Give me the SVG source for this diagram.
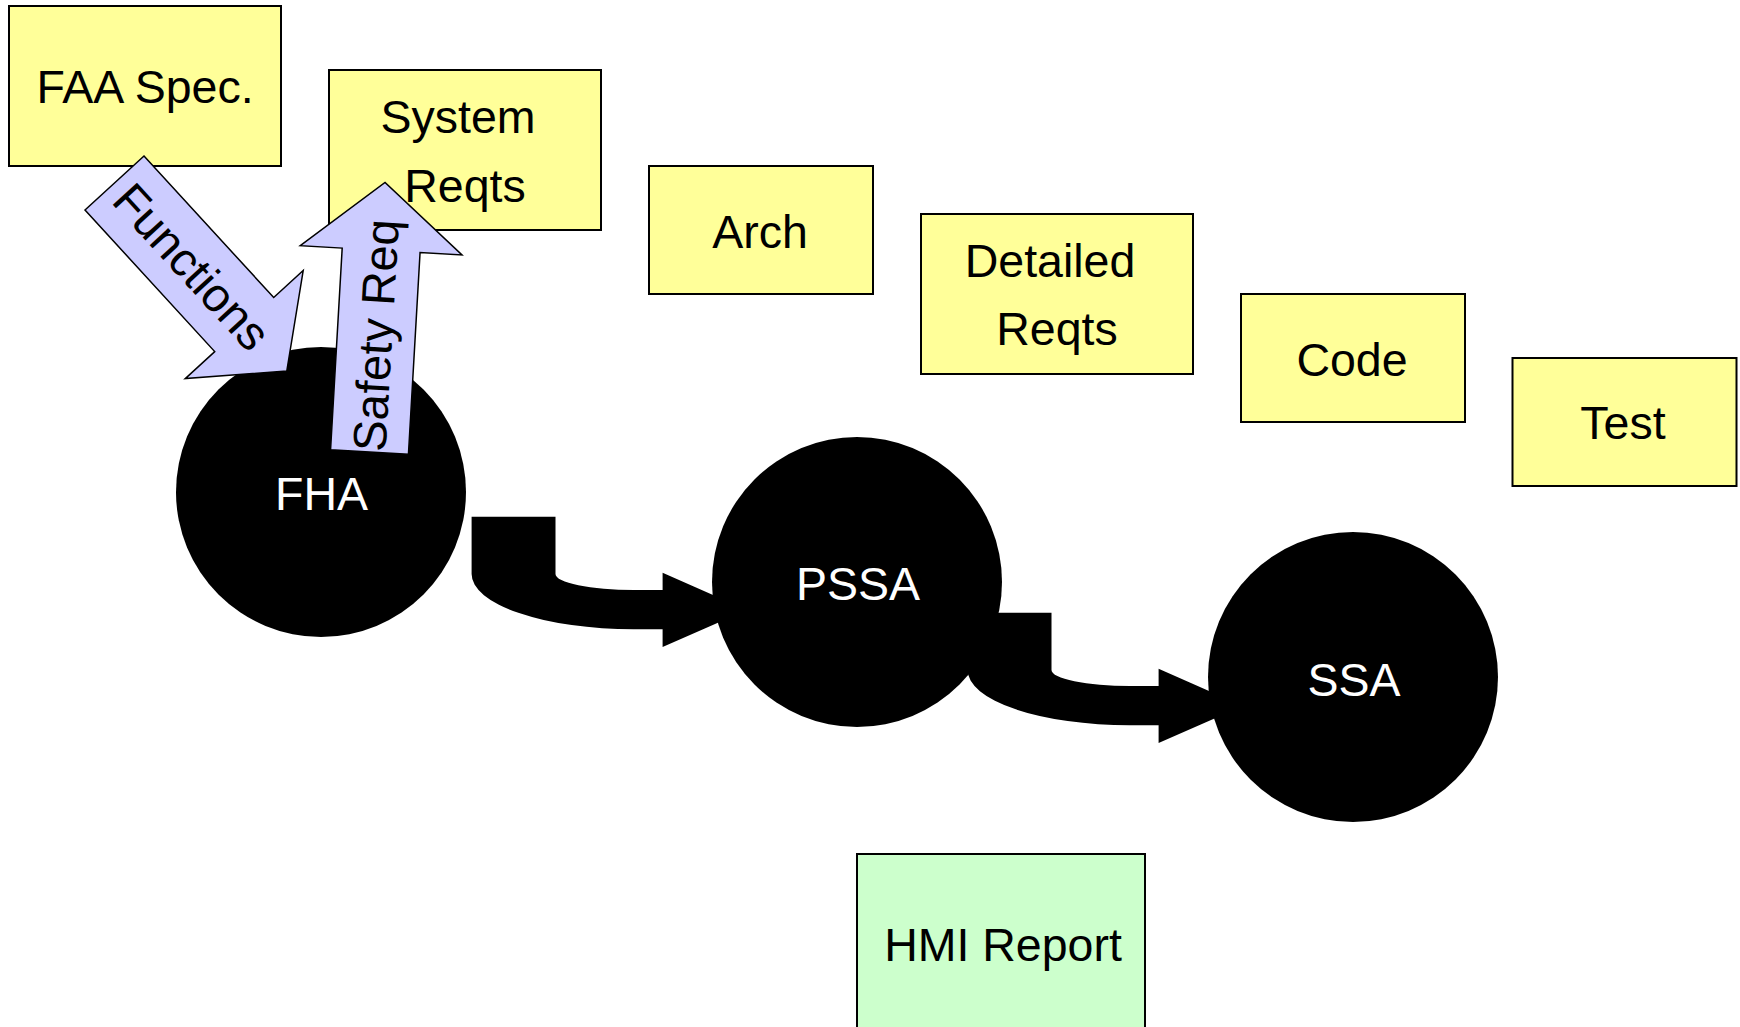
<svg xmlns="http://www.w3.org/2000/svg" width="1740" height="1027" viewBox="0 0 1740 1027">
  <style>
    .box { fill: #FFFF99; stroke: #000; stroke-width: 2; }
    .hmi { fill: #CCFFCC; stroke: #000; stroke-width: 2; }
    .phase { fill: #000; }
    .lbl { font-family: "Liberation Sans", Arial, sans-serif; font-size: 46.5px; fill: #000; text-anchor: middle; }
    .wlbl { font-family: "Liberation Sans", Arial, sans-serif; font-size: 46.5px; fill: #fff; text-anchor: middle; }
    .flow { fill: #000; }
    .block { fill: #CCCCFF; stroke: #000; stroke-width: 1.5; stroke-linejoin: miter; }
  </style>
  <rect width="1740" height="1027" fill="#fff"/>

  <!-- artefact boxes -->
  <g id="faa-spec">
    <rect class="box" x="9" y="6" width="272" height="160"/>
    <text class="lbl" x="145" y="103">FAA Spec.</text>
  </g>
  <g id="system-reqts">
    <rect class="box" x="329" y="70" width="272" height="160"/>
    <text class="lbl" x="458" y="133">System</text>
    <text class="lbl" x="465" y="202">Reqts</text>
  </g>
  <g id="arch">
    <rect class="box" x="649" y="166" width="224" height="128"/>
    <text class="lbl" x="760" y="248">Arch</text>
  </g>
  <g id="detailed-reqts">
    <rect class="box" x="921" y="214" width="272" height="160"/>
    <text class="lbl" x="1050" y="277">Detailed</text>
    <text class="lbl" x="1057" y="345">Reqts</text>
  </g>
  <g id="code">
    <rect class="box" x="1241" y="294" width="224" height="128"/>
    <text class="lbl" x="1352" y="376">Code</text>
  </g>
  <g id="test">
    <rect class="box" x="1512.5" y="358" width="224" height="128"/>
    <text class="lbl" x="1623" y="439">Test</text>
  </g>
  <g id="hmi-report">
    <rect class="hmi" x="857" y="854" width="288" height="200"/>
    <text class="lbl" x="1003" y="961">HMI Report</text>
  </g>

  <!-- safety assessment phases -->
  <g id="fha">
    <circle class="phase" cx="321" cy="492" r="145"/>
    <text class="wlbl" x="321.5" y="510">FHA</text>
  </g>
  <g id="pssa">
    <circle class="phase" cx="857" cy="582" r="145"/>
    <text class="wlbl" x="858" y="600">PSSA</text>
  </g>
  <g id="ssa">
    <circle class="phase" cx="1353" cy="677" r="145"/>
    <text class="wlbl" x="1354" y="696">SSA</text>
  </g>

  <!-- connectors -->
  <g id="connectors">
    <path class="flow" d="M471.6,516.7 H555.5 V574 A78.2,16 0 0 0 633.7,590 H662.6 V572.7 L747,610 L662.6,647 V629.3 H633.7 A162.1,55.3 0 0 1 471.6,574 Z"/>
    <path class="flow" d="M967.6,612.7 H1051.5 V670 A78.2,16 0 0 0 1129.7,686 H1158.6 V668.7 L1243,706 L1158.6,743 V725.3 H1129.7 A162.1,55.3 0 0 1 967.6,670 Z"/>
    <g id="functions" transform="translate(114.5,183) rotate(47.5)">
      <path class="block" d="M0,-40 H192 V-80 L255,0 L192,80 V40 H0 Z"/>
      <text class="lbl" x="114" y="16" style="font-size:47.5px">Functions</text>
    </g>
    <g id="safety-req" transform="translate(369.5,452) rotate(-86.7)">
      <path class="block" d="M0,-39 H202 V-81 L270,0 L202,81 V39 H0 Z"/>
      <text class="lbl" x="117" y="16" style="font-size:47px">Safety Req</text>
    </g>
  </g>
</svg>
